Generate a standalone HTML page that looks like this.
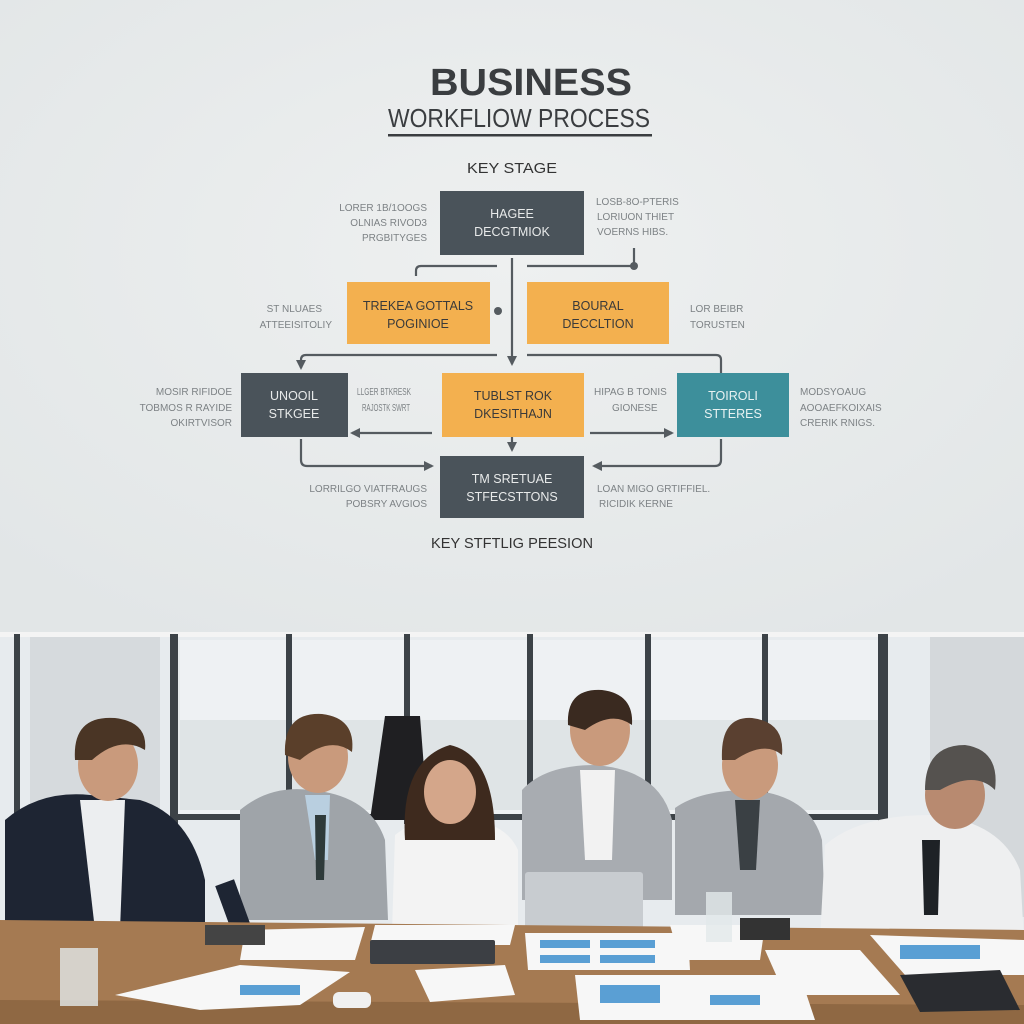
<!DOCTYPE html>
<html><head><meta charset="utf-8"><style>
html,body{margin:0;padding:0;background:#e9ecec}
svg{display:block}
text{font-family:"Liberation Sans",sans-serif}
</style></head><body>
<svg width="1024" height="1024" viewBox="0 0 1024 1024" xmlns="http://www.w3.org/2000/svg">
<defs>
<radialGradient id="bg" cx="50%" cy="40%" r="70%"><stop offset="0" stop-color="#eef0f0"/><stop offset="1" stop-color="#e2e6e7"/></radialGradient>
<marker id="ar" markerWidth="10" markerHeight="10" refX="8" refY="5" orient="auto" markerUnits="userSpaceOnUse"><path d="M0,0 L10,5 L0,10 z" fill="#555b60"/></marker>
</defs>
<rect x="0" y="0" width="1024" height="632" fill="url(#bg)"/>
<text x="531" y="95" font-size="38" font-weight="bold" fill="#3a3d40" text-anchor="middle" textLength="202" lengthAdjust="spacingAndGlyphs">BUSINESS</text>
<text x="519" y="127" font-size="26" fill="#3a3d40" text-anchor="middle" textLength="262" lengthAdjust="spacingAndGlyphs">WORKFLIOW PROCESS</text>
<rect x="388" y="134" width="264" height="2.5" fill="#3a3d40"/>
<text x="512" y="173" font-size="15" fill="#333" text-anchor="middle" textLength="90" lengthAdjust="spacingAndGlyphs">KEY STAGE</text>
<text x="512" y="548" font-size="15" fill="#333" text-anchor="middle" textLength="162" lengthAdjust="spacingAndGlyphs">KEY STFTLIG PEESION</text>

<g stroke="#555b60" stroke-width="2.2" fill="none">
<line x1="512" y1="258" x2="512" y2="364" marker-end="url(#ar)"/>
<path d="M497,266 H421 Q416,266 416,271 V276"/>
<path d="M527,266 H634 V248"/>
<path d="M497,355 H306 Q301,355 301,360 V368" marker-end="url(#ar)"/>
<path d="M527,355 H716 Q721,355 721,360 V373"/>
<line x1="432" y1="433" x2="352" y2="433" marker-end="url(#ar)"/>
<line x1="590" y1="433" x2="672" y2="433" marker-end="url(#ar)"/>
<line x1="512" y1="437" x2="512" y2="450" marker-end="url(#ar)"/>
<path d="M301,439 V460 Q301,466 307,466 H432" marker-end="url(#ar)"/>
<path d="M721,439 V460 Q721,466 715,466 H594" marker-end="url(#ar)"/>
</g>
<circle cx="634" cy="266" r="4" fill="#555b60"/>
<circle cx="498" cy="311" r="4" fill="#555b60"/>

<g font-size="12.5" text-anchor="middle">
<rect x="440" y="191" width="144" height="64" fill="#4a535a"/>
<text x="512" y="218" fill="#e8eaea">HAGEE</text><text x="512" y="236" fill="#e8eaea">DECGTMIOK</text>
<rect x="347" y="282" width="143" height="62" fill="#f3b04f"/>
<text x="418" y="310" fill="#3a3a3a">TREKEA GOTTALS</text><text x="418" y="328" fill="#3a3a3a">POGINIOE</text>
<rect x="527" y="282" width="142" height="62" fill="#f3b04f"/>
<text x="598" y="310" fill="#3a3a3a">BOURAL</text><text x="598" y="328" fill="#3a3a3a">DECCLTION</text>
<rect x="241" y="373" width="107" height="64" fill="#4a535a"/>
<text x="294" y="400" fill="#e8eaea">UNOOIL</text><text x="294" y="418" fill="#e8eaea">STKGEE</text>
<rect x="442" y="373" width="142" height="64" fill="#f3b04f"/>
<text x="513" y="400" fill="#3a3a3a">TUBLST ROK</text><text x="513" y="418" fill="#3a3a3a">DKESITHAJN</text>
<rect x="677" y="373" width="112" height="64" fill="#3d8f9b"/>
<text x="733" y="400" fill="#e8f2f2">TOIROLI</text><text x="733" y="418" fill="#e8f2f2">STTERES</text>
<rect x="440" y="456" width="144" height="62" fill="#4a535a"/>
<text x="512" y="483" fill="#e8eaea">TM SRETUAE</text><text x="512" y="501" fill="#e8eaea">STFECSTTONS</text>
</g>

<g font-size="10" fill="#7d8285">
<g text-anchor="end">
<text x="427" y="211">LORER 1B/1OOGS</text><text x="427" y="226">OLNIAS RIVOD3</text><text x="427" y="241">PRGBITYGES</text>
<text x="322" y="312">ST NLUAES</text><text x="332" y="328">ATTEEISITOLIY</text>
<text x="232" y="395">MOSIR RIFIDOE</text><text x="232" y="411">TOBMOS R RAYIDE</text><text x="232" y="426">OKIRTVISOR</text>
<text x="427" y="492">LORRILGO VIATFRAUGS</text><text x="427" y="507">POBSRY AVGIOS</text>
</g>
<text x="357" y="395" textLength="54" lengthAdjust="spacingAndGlyphs">LLGER BTKRESK</text><text x="362" y="411" textLength="48" lengthAdjust="spacingAndGlyphs">RAJOSTK SWRT</text>
<text x="596" y="205">LOSB-8O-PTERIS</text><text x="597" y="220">LORIUON THIET</text><text x="597" y="235">VOERNS HIBS.</text>
<text x="690" y="312">LOR BEIBR</text><text x="690" y="328">TORUSTEN</text>
<text x="594" y="395">HIPAG B TONIS</text><text x="612" y="411">GIONESE</text>
<text x="800" y="395">MODSYOAUG</text><text x="800" y="411">AOOAEFKOIXAIS</text><text x="800" y="426">CRERIK RNIGS.</text>
<text x="597" y="492">LOAN MIGO GRTIFFIEL.</text><text x="599" y="507">RICIDIK KERNE</text>
</g>

<!-- photo -->
<rect x="0" y="632" width="1024" height="392" fill="#e7ebee"/>
<rect x="0" y="632" width="1024" height="5" fill="#f4f4f4"/>
<rect x="30" y="637" width="130" height="280" fill="#d6dadd"/>
<rect x="930" y="637" width="94" height="280" fill="#d4d8db"/>
<rect x="180" y="640" width="700" height="180" fill="#eef1f3"/>
<rect x="180" y="720" width="700" height="90" fill="#dfe4e6"/>
<g fill="#3c4247">
<rect x="14" y="634" width="6" height="190"/><rect x="170" y="634" width="8" height="190"/>
<rect x="286" y="634" width="6" height="190"/><rect x="404" y="634" width="6" height="190"/>
<rect x="527" y="634" width="6" height="190"/><rect x="645" y="634" width="6" height="190"/>
<rect x="762" y="634" width="6" height="190"/><rect x="878" y="634" width="10" height="190"/>
<rect x="178" y="814" width="710" height="6"/>
</g>
<path d="M385,716 H420 L428,820 H370 Z" fill="#1f1f22"/>
<g>
<path d="M5,820 Q40,790 90,795 L140,800 Q190,815 205,880 L205,980 H5 Z" fill="#1e2533"/>
<path d="M80,800 L125,800 L120,930 L95,930 Z" fill="#eceef0"/>
<ellipse cx="108" cy="765" rx="30" ry="36" fill="#c99a7c"/><path d="M75,760 Q72,715 115,718 Q148,722 145,750 Q120,735 92,760 Z" fill="#4a3525"/>
<path d="M240,810 Q270,785 310,790 Q370,795 385,840 L388,920 H240 Z" fill="#9fa4a9"/>
<path d="M305,795 L330,795 L328,860 L315,860 Z" fill="#b9cfe0"/><path d="M315,815 L326,815 L324,880 L316,880 Z" fill="#2e3a3a"/>
<ellipse cx="318" cy="757" rx="30" ry="36" fill="#c99a7c"/><path d="M285,755 Q283,712 322,714 Q356,718 352,752 Q330,735 300,760 Z" fill="#5a3f2a"/>
<path d="M395,835 Q420,815 455,818 Q505,820 518,850 L518,932 H392 Z" fill="#f3f3f3"/>
<path d="M405,840 Q400,760 450,745 Q495,755 495,840 Z" fill="#3e2a1e"/>
<ellipse cx="450" cy="792" rx="26" ry="32" fill="#d4a68a"/>
<path d="M522,790 Q545,765 595,765 Q660,770 672,820 L672,900 H522 Z" fill="#a8acb1"/>
<path d="M580,770 L615,770 L612,860 L585,860 Z" fill="#f2f2f2"/>
<ellipse cx="600" cy="730" rx="30" ry="36" fill="#c99a7c"/><path d="M568,725 Q566,688 602,690 Q634,694 632,725 Q612,710 585,730 Z" fill="#3a2a20"/>
<path d="M675,808 Q700,790 750,790 Q810,795 822,840 L825,915 H675 Z" fill="#a4a8ad"/>
<path d="M735,800 L760,800 L756,870 L740,870 Z" fill="#3a4044"/>
<ellipse cx="750" cy="765" rx="28" ry="35" fill="#c99a7c"/><path d="M722,760 Q720,716 752,718 Q785,722 782,755 Q765,740 735,760 Z" fill="#5a4030"/>
<path d="M825,845 Q860,815 930,815 Q1000,820 1020,870 L1024,940 H820 Z" fill="#eeeff0"/>
<path d="M922,840 L940,840 L938,915 L924,915 Z" fill="#1e2226"/>
<ellipse cx="955" cy="795" rx="30" ry="34" fill="#b88a70"/><path d="M925,790 Q925,745 965,745 Q1000,750 995,790 Q975,770 940,790 Z" fill="#55524f"/>
</g>
<rect x="230" y="880" width="20" height="90" fill="#1e2533" transform="rotate(-20 240 925)"/>
<rect x="525" y="872" width="118" height="62" rx="3" fill="#c8ccd0"/>
<path d="M0,920 L1024,930 L1024,1024 H0 Z" fill="#a57a52"/>
<path d="M0,1000 L1024,1005 V1024 H0 Z" fill="#8f6843"/>
<g fill="#f7f7f7">
<polygon points="115,995 240,965 350,972 300,1005 200,1010"/>
<polygon points="245,930 365,927 355,960 240,960"/>
<polygon points="525,933 688,933 690,970 528,970"/>
<polygon points="575,975 800,975 815,1020 580,1020"/>
<polygon points="670,925 765,925 760,960 680,960"/>
<polygon points="765,950 860,950 900,995 785,995"/>
<polygon points="870,935 1024,940 1024,975 905,975"/>
<polygon points="415,970 505,965 515,995 430,1002"/>
<polygon points="375,925 515,925 510,945 370,945"/>
</g>
<rect x="370" y="940" width="125" height="24" rx="2" fill="#3c3f44"/>
<rect x="205" y="925" width="60" height="20" fill="#444"/>
<rect x="740" y="918" width="50" height="22" fill="#333"/>
<polygon points="900,975 1000,970 1020,1010 920,1012" fill="#2a2c30"/>
<g fill="#5a9fd4">
<rect x="540" y="940" width="50" height="8"/><rect x="600" y="940" width="55" height="8"/><rect x="540" y="955" width="50" height="8"/><rect x="600" y="955" width="55" height="8"/>
<rect x="600" y="985" width="60" height="18"/><rect x="710" y="995" width="50" height="10"/>
<rect x="900" y="945" width="80" height="14"/><rect x="240" y="985" width="60" height="10"/>
</g>
<rect x="60" y="948" width="38" height="58" fill="#e2e8ea" opacity="0.8"/>
<rect x="706" y="892" width="26" height="50" fill="#e2e8ea" opacity="0.8"/>
<rect x="333" y="992" width="38" height="16" rx="6" fill="#f0f0f0"/>
</svg>
</body></html>
